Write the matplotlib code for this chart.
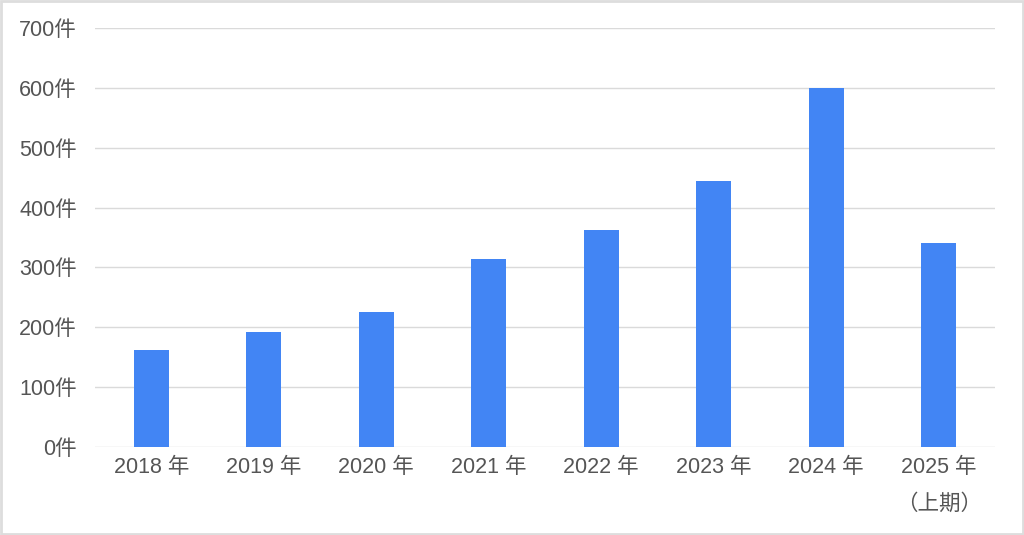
import numpy as np
import matplotlib.pyplot as plt
from matplotlib.patches import Rectangle

plt.rcParams['font.family'] = ['Liberation Sans', 'Noto Sans CJK JP', 'DejaVu Sans']

years = ['2018 年', '2019 年', '2020 年', '2021 年', '2022 年', '2023 年', '2024 年', '2025 年\n（上期）']
counts = [162, 192, 225, 314, 362, 445, 600, 340]
yticks = [0, 100, 200, 300, 400, 500, 600, 700]
ytick_labels = [str(v) + '件' for v in yticks]

fig = plt.figure(figsize=(10.24, 5.35), dpi=100)
ax = fig.add_axes([95 / 1024, 88 / 535, 900 / 1024, 419 / 535])

x = np.arange(len(years))
ax.bar(x, counts, width=0.31, color='#4285F4', zorder=3)

ax.set_xlim(-0.5, len(years) - 0.5)
ax.set_ylim(0, 700)
ax.set_yticks(yticks)
ax.set_yticklabels(ytick_labels)
ax.set_xticks(x)
ax.set_xticklabels(years, linespacing=2.0, va='top')
ax.tick_params(axis='both', length=0, labelsize=15.5, colors='#555555')
ax.tick_params(axis='y', pad=13)
ax.tick_params(axis='x', pad=7)
ax.grid(axis='y', color='#dadada', linewidth=1.0, zorder=0)
for s in ax.spines.values():
    s.set_visible(False)

# light frame round the picture
fig.patches.append(Rectangle((0.001, 0.002), 0.998, 0.996, transform=fig.transFigure,
                             fill=False, edgecolor='#dddddd', linewidth=2))

fig.savefig('out.png', dpi=100)
